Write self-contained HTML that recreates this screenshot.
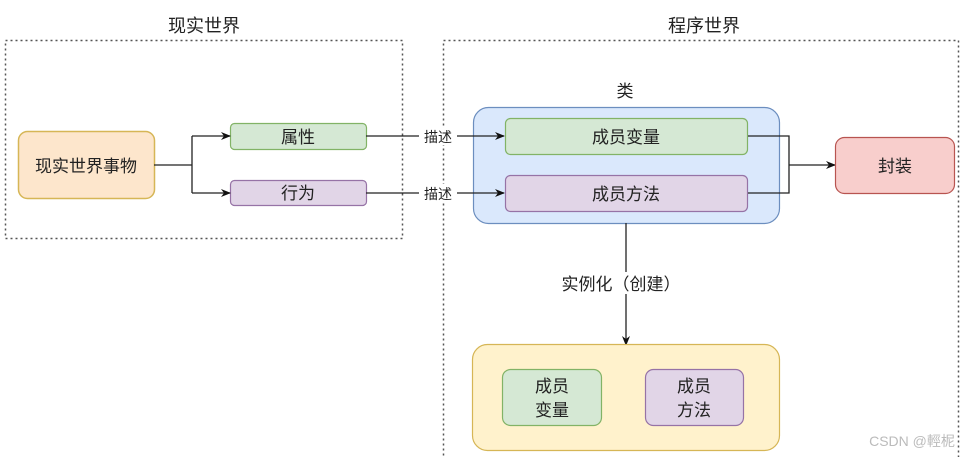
<!DOCTYPE html>
<html><head><meta charset="utf-8"><style>
body{margin:0;width:973px;height:457px;overflow:hidden;background:#fff;font-family:"Liberation Sans","Noto Sans CJK SC",sans-serif;}
</style></head><body>
<svg width="973" height="457" xmlns="http://www.w3.org/2000/svg" font-family="Liberation Sans, Noto Sans CJK SC, sans-serif">
<defs><marker id="a" markerWidth="10" markerHeight="10" refX="9" refY="5" orient="auto" markerUnits="userSpaceOnUse"><path d="M0,1 L10,5 L0,9 L3,5 z" fill="#111"/></marker></defs>
<rect x="5.5" y="40.5" width="397" height="198" fill="none" stroke="#555" stroke-width="1.5" stroke-dasharray="2,3"/>
<rect x="443.5" y="40.5" width="515" height="430" fill="none" stroke="#555" stroke-width="1.5" stroke-dasharray="2,3"/>
<text x="204" y="32" font-size="18" text-anchor="middle" fill="#222">现实世界</text>
<text x="704" y="32" font-size="18" text-anchor="middle" fill="#222">程序世界</text>
<rect x="18.5" y="131.5" width="136" height="67" rx="9" fill="#fde6cc" stroke="#d6b656" stroke-width="1.5"/>
<text x="86" y="172" font-size="17" text-anchor="middle" fill="#222">现实世界事物</text>
<rect x="230.5" y="123.5" width="136" height="26" rx="4" fill="#d5e8d4" stroke="#82b366" stroke-width="1.2"/>
<text x="298" y="143" font-size="17" text-anchor="middle" fill="#222">属性</text>
<rect x="230.5" y="180.5" width="136" height="25" rx="4" fill="#e1d5e7" stroke="#9673a6" stroke-width="1.2"/>
<text x="298" y="199" font-size="17" text-anchor="middle" fill="#222">行为</text>
<path d="M154,165 H192 M192,136 V193" stroke="#222" stroke-width="1.3" fill="none"/>
<path d="M192,136 H230" stroke="#222" stroke-width="1.3" marker-end="url(#a)"/>
<path d="M192,193 H230" stroke="#222" stroke-width="1.3" marker-end="url(#a)"/>
<rect x="473.5" y="107.5" width="306" height="116" rx="15" fill="#dae8fc" stroke="#6c8ebf" stroke-width="1.2"/>
<text x="625" y="97" font-size="17" text-anchor="middle" fill="#222">类</text>
<path d="M366,136 H504" stroke="#222" stroke-width="1.3" marker-end="url(#a)"/>
<path d="M366,193 H504" stroke="#222" stroke-width="1.3" marker-end="url(#a)"/>
<rect x="419" y="127" width="38" height="18" fill="#fff"/>
<rect x="419" y="184" width="38" height="18" fill="#fff"/>
<text x="438" y="142" font-size="14" text-anchor="middle" fill="#222">描述</text>
<text x="438" y="199" font-size="14" text-anchor="middle" fill="#222">描述</text>
<rect x="505.5" y="118.5" width="242" height="36" rx="5" fill="#d5e8d4" stroke="#82b366" stroke-width="1.2"/>
<text x="626" y="143" font-size="17" text-anchor="middle" fill="#222">成员变量</text>
<rect x="505.5" y="175.5" width="242" height="36" rx="5" fill="#e1d5e7" stroke="#9673a6" stroke-width="1.2"/>
<text x="626" y="200" font-size="17" text-anchor="middle" fill="#222">成员方法</text>
<path d="M748,136 H789 V193 H748" stroke="#222" stroke-width="1.3" fill="none"/>
<path d="M789,165 H835" stroke="#222" stroke-width="1.3" marker-end="url(#a)"/>
<rect x="835.5" y="137.5" width="119" height="56" rx="9" fill="#f8cecc" stroke="#b85450" stroke-width="1.2"/>
<text x="895" y="172" font-size="17" text-anchor="middle" fill="#222">封装</text>
<path d="M626,223 V345" stroke="#222" stroke-width="1.3" marker-end="url(#a)"/>
<rect x="548" y="272" width="150" height="22" fill="#fff"/>
<text x="621" y="290" font-size="17" text-anchor="middle" fill="#222">实例化（创建）</text>
<rect x="472.5" y="344.5" width="307" height="106" rx="15" fill="#fff2cc" stroke="#d6b656" stroke-width="1.2"/>
<rect x="502.5" y="369.5" width="99" height="56" rx="8" fill="#d5e8d4" stroke="#82b366" stroke-width="1.2"/>
<text x="552" y="392" font-size="17" text-anchor="middle" fill="#222">成员</text>
<text x="552" y="416" font-size="17" text-anchor="middle" fill="#222">变量</text>
<rect x="645.5" y="369.5" width="98" height="56" rx="8" fill="#e1d5e7" stroke="#9673a6" stroke-width="1.2"/>
<text x="694" y="392" font-size="17" text-anchor="middle" fill="#222">成员</text>
<text x="694" y="416" font-size="17" text-anchor="middle" fill="#222">方法</text>
<text x="912" y="446" font-size="14" text-anchor="middle" fill="#bbb">CSDN @輕柅</text>
</svg>
</body></html>
